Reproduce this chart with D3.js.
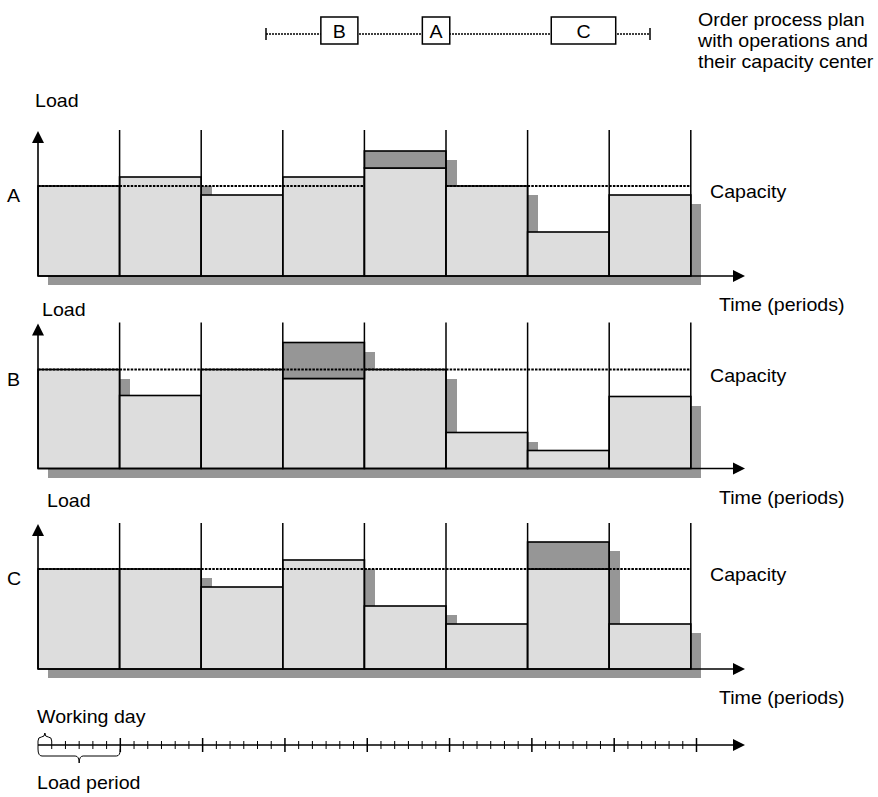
<!DOCTYPE html>
<html><head><meta charset="utf-8">
<script src="https://cdn.jsdelivr.net/npm/d3@7"></script>
<style>
body{margin:0;background:#fff}
text{font-family:"Liberation Sans",Arial,sans-serif;font-size:18.5px;fill:#000}
</style></head><body>
<svg id="c" width="878" height="797"></svg>
<script>
// ---- data ----
const periods = [1, 2, 3, 4, 5, 6, 7, 8];
const centers = ["A", "B", "C"];
const capacities = [90, 99, 100];
const loadA = [90, 99, 81, 99, 108, 90, 44, 81];
const extraA = [0, 0, 0, 0, 17, 0, 0, 0];
const loadB = [99, 73, 99, 90, 99, 36, 18, 72];
const extraB = [0, 0, 0, 36, 0, 0, 0, 0];
const loadC = [100, 100, 82, 109, 63, 45, 100, 45];
const extraC = [0, 0, 0, 0, 0, 0, 27, 0];
const operations = ["B", "A", "C"];
const opStart = [4, 11.4, 20.8];   // days
const opEnd = [6.7, 13.4, 25.5];
const planLength = 28;
const daysPerPeriod = 6;
const planText = ["Order process plan", "with operations and", "their capacity center"];

// ---- layout ----
const svg = d3.select("#c");
const x = d3.scaleLinear().domain([0, periods.length]).range([38, 690.8]);
const panelBase = [276, 468.5, 669];
const panelH = 146;
const loadLabelPos = [[35, 107], [42, 316], [47, 507]];
const shadowDx = 10, shadowDy = 9;
const axisEnd = 745;
const LIGHT = "#dddddd", DARK = "#969696";
const SX = 1.06;

const loads = [loadA, loadB, loadC];
const extras = [extraA, extraB, extraC];

function label(g, tx, ty, str, anchor) {
  return g.append("text").attr("transform", `translate(${tx},${ty}) scale(${SX},1)`)
    .attr("text-anchor", anchor || "start").text(str);
}
function arrowRight(g, xt, yv) {
  g.append("path").attr("d", `M${xt},${yv} L${xt - 12},${yv - 6} L${xt - 12},${yv + 6} Z`).attr("fill", "#000");
}
function arrowUp(g, xv, yt) {
  g.append("path").attr("d", `M${xv},${yt} L${xv - 6},${yt + 12} L${xv + 6},${yt + 12} Z`).attr("fill", "#000");
}

centers.forEach((c, k) => {
  const base = panelBase[k];
  const y = d3.scaleLinear().domain([0, panelH]).range([base, base - panelH]);
  const data = periods.map((p, i) => ({ i, load: loads[k][i], extra: extras[k][i] }));
  const g = svg.append("g");
  const bw = x(1) - x(0);

  // shadows
  g.selectAll("rect.sh").data(data).join("rect")
    .attr("x", d => x(d.i) + shadowDx)
    .attr("y", d => y(d.load + d.extra) + shadowDy)
    .attr("width", bw + 0.5)
    .attr("height", d => base - y(d.load + d.extra))
    .attr("fill", DARK).attr("shape-rendering", "crispEdges");

  // light load bars
  g.selectAll("rect.ld").data(data).join("rect")
    .attr("x", d => x(d.i)).attr("y", d => y(d.load))
    .attr("width", bw).attr("height", d => base - y(d.load))
    .attr("fill", LIGHT).attr("stroke", "#000").attr("stroke-width", 1.6);

  // extra (new order) load
  g.selectAll("rect.ex").data(data.filter(d => d.extra > 0)).join("rect")
    .attr("x", d => x(d.i)).attr("y", d => y(d.load + d.extra))
    .attr("width", bw).attr("height", d => y(d.load) - y(d.load + d.extra))
    .attr("fill", DARK).attr("stroke", "#000").attr("stroke-width", 1.6);

  // period boundaries
  g.selectAll("line.v").data(periods).join("line")
    .attr("x1", p => x(p)).attr("x2", p => x(p))
    .attr("y1", base - panelH).attr("y2", base)
    .attr("stroke", "#000").attr("stroke-width", 1.5);

  // capacity line (segments per period)
  const cap = capacities[k];
  g.selectAll("line.cap").data(data.filter(d => !(d.load > cap && d.extra > 0))).join("line")
    .attr("x1", d => x(d.i)).attr("x2", d => x(d.i + 1))
    .attr("y1", y(cap)).attr("y2", y(cap))
    .attr("stroke", "#000").attr("stroke-width", 1.8).attr("stroke-dasharray", "2.5,1.2");

  // axes
  g.append("line").attr("x1", x(0)).attr("x2", x(0)).attr("y1", base).attr("y2", base - panelH + 8)
    .attr("stroke", "#000").attr("stroke-width", 1.6);
  arrowUp(g, x(0), base - panelH + 1);
  g.append("line").attr("x1", x(0)).attr("x2", axisEnd - 8).attr("y1", base).attr("y2", base)
    .attr("stroke", "#000").attr("stroke-width", 1.6);
  arrowRight(g, axisEnd, base);

  // labels
  label(g, loadLabelPos[k][0], loadLabelPos[k][1], "Load");
  label(g, 7, y(cap) + 16, c);
  label(g, 710, y(cap) + 12, "Capacity");
  label(g, 719, base + 35, "Time (periods)");
});

// ---- order process plan ----
const px = d3.scaleLinear().domain([0, planLength]).range([266, 650]);
const planY = 34;
const pg = svg.append("g");
pg.append("line").attr("x1", px(0)).attr("x2", px(planLength)).attr("y1", planY).attr("y2", planY)
  .attr("stroke", "#000").attr("stroke-width", 1.6).attr("stroke-dasharray", "2,1");
[0, planLength].forEach(d => pg.append("line").attr("x1", px(d)).attr("x2", px(d))
  .attr("y1", planY - 6).attr("y2", planY + 6).attr("stroke", "#000").attr("stroke-width", 1.5));
operations.forEach((o, i) => {
  pg.append("rect").attr("x", px(opStart[i])).attr("y", 17).attr("width", px(opEnd[i]) - px(opStart[i])).attr("height", 27)
    .attr("fill", "#fff").attr("stroke", "#000").attr("stroke-width", 1.5);
  label(pg, (px(opStart[i]) + px(opEnd[i])) / 2, 38, o, "middle");
});
planText.forEach((t, i) => label(pg, 698, 26 + i * 21, t));

// ---- bottom timeline ----
const nDays = daysPerPeriod * periods.length;
const tx = d3.scaleLinear().domain([0, nDays]).range([38, 696.5]);
const ty = 745;
const tg = svg.append("g");
tg.append("line").attr("x1", tx(0)).attr("x2", axisEnd - 8).attr("y1", ty).attr("y2", ty)
  .attr("stroke", "#000").attr("stroke-width", 1.6);
arrowRight(tg, axisEnd, ty);
const isMajor = d => d > 0 && d % daysPerPeriod === 0;
tg.selectAll("line.t").data(d3.range(0, nDays + 1)).join("line")
  .attr("x1", d => tx(d)).attr("x2", d => tx(d))
  .attr("y1", d => isMajor(d) ? ty - 7 : ty - 4)
  .attr("y2", d => isMajor(d) ? ty + 7 : ty + 4)
  .attr("stroke", "#000").attr("stroke-width", d => isMajor(d) ? 1.5 : 1);

function brace(x1, x2, yb, depth) {
  const m = (x1 + x2) / 2, h = depth / 2, r = Math.min(4, (m - x1) / 2);
  return `M${x1},${yb} Q${x1},${yb + h} ${x1 + r},${yb + h} L${m - r},${yb + h} Q${m},${yb + h} ${m},${yb + depth}` +
    ` M${x2},${yb} Q${x2},${yb + h} ${x2 - r},${yb + h} L${m + r},${yb + h} Q${m},${yb + h} ${m},${yb + depth}`;
}
tg.append("path").attr("d", brace(tx(0), tx(1), ty - 4, -8)).attr("fill", "none").attr("stroke", "#000").attr("stroke-width", 1);
tg.append("path").attr("d", brace(tx(0), tx(daysPerPeriod), ty + 4, 14)).attr("fill", "none").attr("stroke", "#000").attr("stroke-width", 1);
label(tg, 37, 723, "Working day");
label(tg, 37, 789, "Load period");
</script></body></html>
